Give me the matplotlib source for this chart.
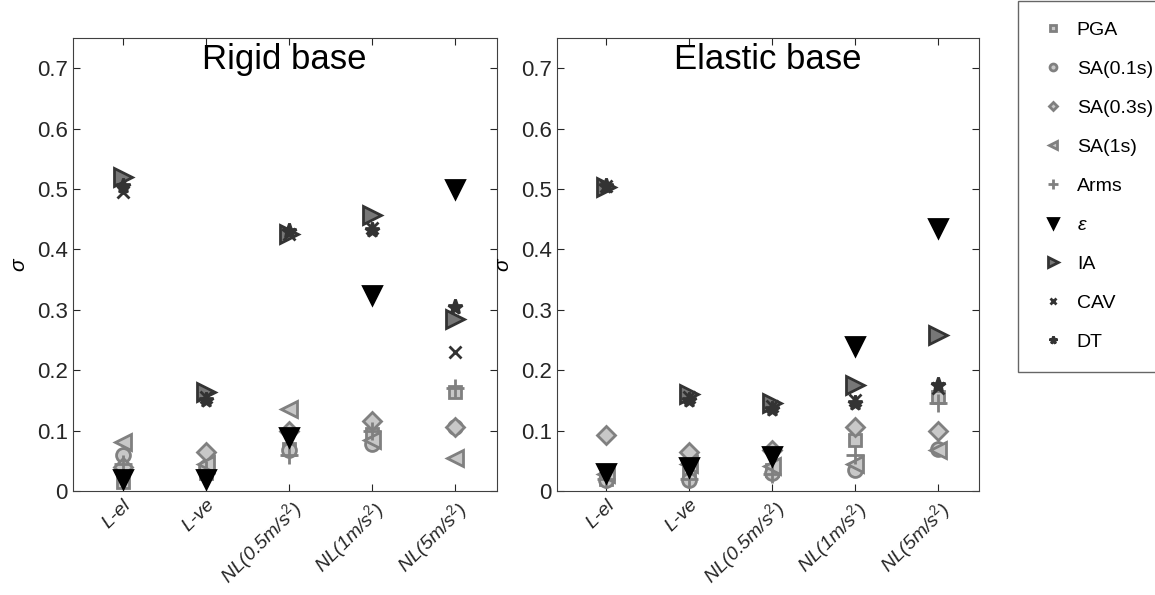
import matplotlib.pyplot as plt

plt.rcParams['font.family'] = ['Liberation Sans', 'DejaVu Sans']
plt.rcParams['mathtext.fontset'] = 'custom'
plt.rcParams['mathtext.it'] = 'Liberation Sans:italic'
plt.rcParams['mathtext.rm'] = 'Liberation Sans'

cases = ['L-el', 'L-ve', 'NL(0.5m/s$^2$)', 'NL(1m/s$^2$)', 'NL(5m/s$^2$)']
series = ['PGA', 'SA(0.1s)', 'SA(0.3s)', 'SA(1s)', 'Arms', r'$\epsilon$', 'IA', 'CAV', 'DT']

# sigma values, rigid base
rigid_pga = [0.015, 0.030, 0.070, 0.095, 0.163]
rigid_sa01 = [0.060, 0.040, 0.068, 0.078, 0.105]
rigid_sa03 = [0.040, 0.065, 0.100, 0.115, 0.105]
rigid_sa1 = [0.081, 0.045, 0.135, 0.085, 0.055]
rigid_arms = [0.045, 0.035, 0.060, 0.100, 0.170]
rigid_eps = [0.020, 0.020, 0.090, 0.325, 0.500]
rigid_ia = [0.520, 0.163, 0.425, 0.457, 0.284]
rigid_cav = [0.495, 0.155, 0.425, 0.435, 0.230]
rigid_dt = [0.505, 0.150, 0.430, 0.432, 0.305]

# sigma values, elastic base
elastic_pga = [0.020, 0.030, 0.035, 0.085, 0.155]
elastic_sa01 = [0.018, 0.018, 0.030, 0.035, 0.070]
elastic_sa03 = [0.093, 0.065, 0.068, 0.105, 0.100]
elastic_sa1 = [0.028, 0.045, 0.042, 0.045, 0.068]
elastic_arms = [0.020, 0.020, 0.028, 0.060, 0.145]
elastic_eps = [0.030, 0.040, 0.057, 0.240, 0.435]
elastic_ia = [0.503, 0.160, 0.145, 0.175, 0.258]
elastic_cav = [0.505, 0.155, 0.140, 0.150, 0.170]
elastic_dt = [0.505, 0.150, 0.135, 0.145, 0.175]

rigid = [rigid_pga, rigid_sa01, rigid_sa03, rigid_sa1, rigid_arms,
         rigid_eps, rigid_ia, rigid_cav, rigid_dt]
elastic = [elastic_pga, elastic_sa01, elastic_sa03, elastic_sa1, elastic_arms,
           elastic_eps, elastic_ia, elastic_cav, elastic_dt]

light, mid, dark = '#c8c8c8', '#808080', '#333333'
styles = [
    dict(marker='s', ms=9, mfc=light, mec=mid),
    dict(marker='o', ms=10, mfc=light, mec=mid),
    dict(marker='D', ms=9, mfc=light, mec=mid),
    dict(marker='<', ms=12, mfc=light, mec=mid),
    dict(marker='+', ms=13, mfc=mid, mec=mid),
    dict(marker='v', ms=13, mfc='black', mec='black'),
    dict(marker='>', ms=13, mfc='#777777', mec=dark),
    dict(marker='x', ms=9, mfc=dark, mec=dark),
    dict(marker='*', ms=11, mfc=dark, mec=dark),
]

fig = plt.figure(figsize=(11.55, 5.95), dpi=100)
ax1 = fig.add_axes([0.063, 0.175, 0.367, 0.761])
ax2 = fig.add_axes([0.482, 0.175, 0.366, 0.761])

x = list(range(1, len(cases) + 1))
for ax, data, title in [(ax1, rigid, 'Rigid base'), (ax2, elastic, 'Elastic base')]:
    for vals, st, name in zip(data, styles, series):
        ax.plot(x, vals, ls='none', mew=2, label=name, **st)
    ax.set_xlim(0.4, 5.5)
    ax.set_ylim(0, 0.75)
    ax.set_yticks([0, 0.1, 0.2, 0.3, 0.4, 0.5, 0.6, 0.7])
    ax.set_yticklabels(['0', '0.1', '0.2', '0.3', '0.4', '0.5', '0.6', '0.7'])
    ax.set_xticks(x)
    ax.set_xticklabels(cases, rotation=45, ha='right', rotation_mode='anchor',
                       style='italic', fontsize=14)
    ax.tick_params(direction='in', top=True, right=True, labelsize=16,
                   length=5, color='#262626', labelcolor='#262626')
    ax.tick_params(axis='x', pad=4, labelsize=14)
    for s in ax.spines.values():
        s.set_color('#404040')
    ax.set_ylabel(r'$\sigma$', fontsize=15, labelpad=6)
    ax.text(0.5, 0.99, title, transform=ax.transAxes, ha='center', va='top',
            fontsize=25)

h, l = ax1.get_legend_handles_labels()
leg = fig.legend(h, l, loc='upper left', bbox_to_anchor=(0.881, 0.998),
                 fontsize=14, markerscale=0.5, labelspacing=1.1,
                 handlelength=1.5, handletextpad=0.5, borderpad=1.05,
                 fancybox=False, edgecolor='#404040', borderaxespad=0)
leg.get_frame().set_linewidth(1.0)

fig.savefig('out.png', dpi=100)
